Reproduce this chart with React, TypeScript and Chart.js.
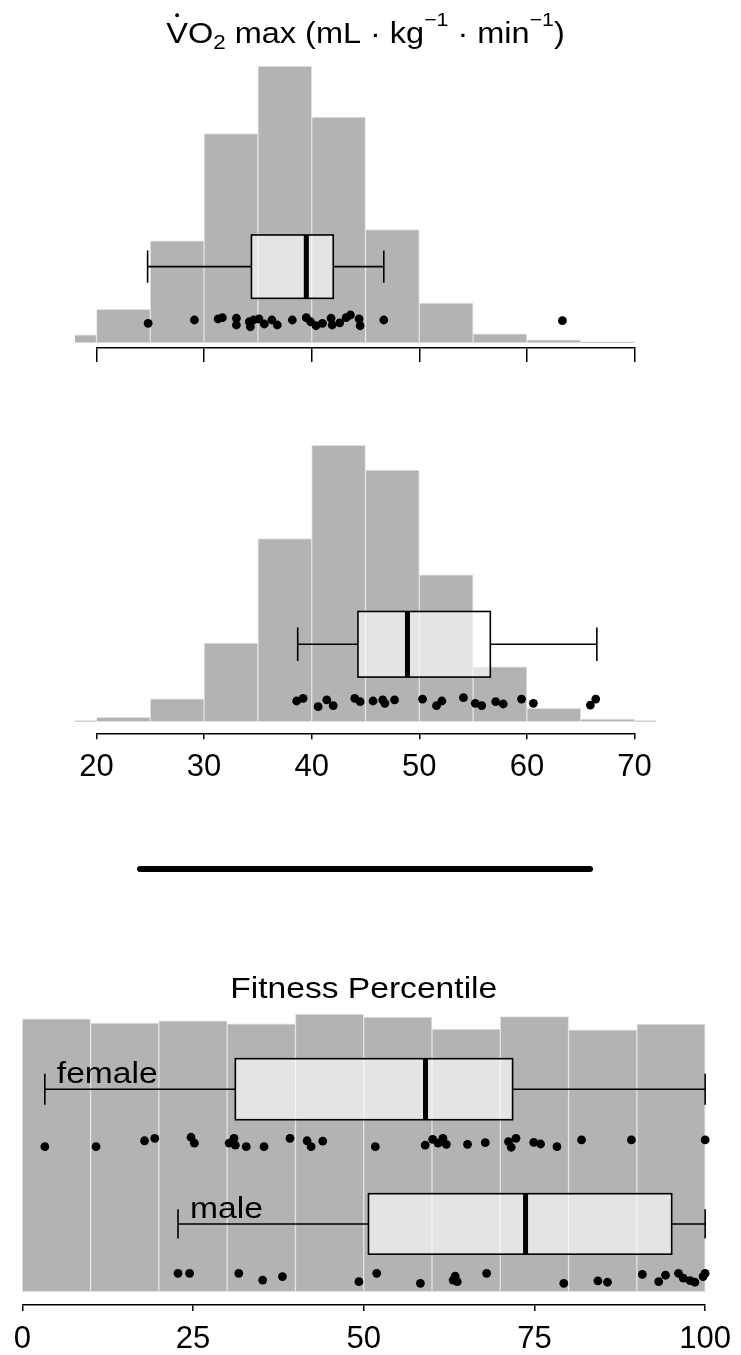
import React, { useEffect, useRef } from 'react';
import { Chart, registerables } from 'chart.js';

Chart.register(...registerables);

const W = 741;
const H = 1355;

// ---------------- DATA ----------------
// VO2 max histograms: percent of group in each 5-unit bin (bins start at these values)
const vo2BinStarts = [15, 20, 25, 30, 35, 40, 45, 50, 55, 60, 65, 70];
const vo2BinWidth = 5;
const femaleVO2Hist = [0.8, 3.3, 10.0, 20.5, 27.1, 22.1, 11.1, 3.9, 0.9, 0.3, 0.12];
const maleVO2Hist = [0.1, 0.43, 2.2, 7.6, 17.7, 26.7, 24.3, 14.2, 5.3, 1.3, 0.26, 0.1];
const vo2Ticks = [20, 30, 40, 50, 60, 70];

// Box plot stats: [lower whisker, Q1, median, Q3, upper whisker]
const femaleVO2Box = [24.75, 34.4, 39.5, 42.0, 46.7];
const maleVO2Box = [38.7, 44.3, 48.9, 56.6, 66.5];

// Individual observations and their vertical jitter (percent units)
const femaleVO2 = [24.8, 29.1, 31.3, 31.7, 33.0, 33.0, 34.2, 34.3, 34.6, 35.1, 35.6, 36.3, 36.8, 38.2, 39.5, 39.9, 40.4, 41.0, 41.8, 41.9, 42.6, 43.2, 43.6, 44.4, 44.5, 46.7, 63.3];
const femaleVO2Row = [1.93, 2.25, 2.35, 2.48, 2.42, 1.76, 2.08, 1.59, 2.25, 2.35, 1.86, 2.25, 1.76, 2.25, 2.48, 2.08, 1.69, 1.93, 2.42, 1.76, 1.96, 2.48, 2.74, 2.35, 1.69, 2.25, 2.18];
const maleVO2 = [38.6, 39.2, 40.6, 41.4, 42.0, 44.0, 44.5, 45.7, 46.6, 46.8, 47.7, 50.3, 51.6, 52.1, 54.1, 55.2, 55.8, 57.1, 57.8, 59.5, 60.6, 65.9, 66.4];
const maleVO2Row = [2.0, 2.26, 1.45, 2.1, 1.55, 2.26, 1.93, 2.0, 2.1, 1.78, 2.1, 2.19, 1.55, 2.0, 2.32, 1.78, 1.55, 1.93, 1.71, 2.19, 1.78, 1.61, 2.19];

// Fitness percentile histogram: percent in each 10-unit bin
const pctBinStarts = [0, 10, 20, 30, 40, 50, 60, 70, 80, 90];
const pctBinWidth = 10;
const pctHist = [10.11, 9.95, 10.03, 9.92, 10.28, 10.17, 9.73, 10.19, 9.70, 9.91];
const pctTicks = [0, 25, 50, 75, 100];

const femalePctBox = [3.3, 31.2, 59.05, 71.8, 100];
const malePctBox = [22.8, 50.7, 73.7, 95.1, 100];

const femalePct = [3.3, 10.8, 17.9, 19.4, 24.7, 25.2, 30.3, 31.0, 31.2, 32.8, 35.4, 39.2, 41.7, 42.3, 44.0, 51.7, 59.0, 60.1, 60.9, 61.6, 62.1, 65.2, 67.8, 71.2, 71.6, 72.3, 74.9, 75.9, 78.3, 81.9, 89.2, 100];
const femalePctRow = [5.37, 5.37, 5.59, 5.68, 5.72, 5.50, 5.50, 5.68, 5.43, 5.37, 5.37, 5.68, 5.59, 5.37, 5.58, 5.37, 5.43, 5.64, 5.50, 5.68, 5.46, 5.46, 5.52, 5.56, 5.35, 5.68, 5.53, 5.47, 5.37, 5.62, 5.62, 5.62];
const malePct = [22.8, 24.5, 31.7, 35.2, 38.1, 49.3, 51.9, 58.3, 63.1, 63.4, 63.7, 68.0, 79.3, 84.3, 85.7, 90.8, 93.2, 94.2, 96.1, 96.8, 97.8, 98.5, 99.7, 100];
const malePctRow = [0.68, 0.68, 0.68, 0.43, 0.56, 0.37, 0.68, 0.31, 0.43, 0.58, 0.37, 0.68, 0.31, 0.40, 0.35, 0.64, 0.37, 0.61, 0.68, 0.50, 0.41, 0.35, 0.56, 0.68];

// ---------------- DRAWING HELPERS ----------------
const FONT = "'Liberation Sans', Arial, Helvetica, sans-serif";
const STRETCH = 1.12;

type Part = { t: string; size: number; dy?: number };

function drawParts(ctx: CanvasRenderingContext2D, parts: Part[], x0: number, baseline: number, centered: boolean) {
  ctx.save();
  ctx.fillStyle = '#000';
  ctx.textBaseline = 'alphabetic';
  ctx.textAlign = 'left';
  const widths = parts.map((p) => {
    ctx.font = `${p.size}px ${FONT}`;
    return ctx.measureText(p.t).width * STRETCH;
  });
  const total = widths.reduce((a, b) => a + b, 0);
  let x = centered ? x0 - total / 2 : x0;
  const starts: number[] = [];
  parts.forEach((p, i) => {
    ctx.save();
    ctx.translate(x, baseline + (p.dy || 0));
    ctx.scale(STRETCH, 1);
    ctx.font = `${p.size}px ${FONT}`;
    ctx.fillText(p.t, 0, 0);
    ctx.restore();
    starts.push(x);
    x += widths[i];
  });
  ctx.restore();
  return { starts, widths };
}

type BoxSpec = { stats: number[]; y: number; half: number; cap: number; label?: string };

interface PanelSpec {
  binStarts: number[];
  binWidth: number;
  hist: number[];
  xMin: number;
  xMax: number;
  ticks: number[];
  xLeft: number;
  xRight: number;
  axisY: number;
  baseY: number;
  pxPerUnit: number;
  yMax: number;
  showLabels: boolean;
  tickLen: number;
  labelPad: number;
  boxes: BoxSpec[];
  dots: { x: number; y: number }[];
  title?: (ctx: CanvasRenderingContext2D, chart: any) => void;
}

function buildConfig(spec: PanelSpec): any {
  const yMin = -(spec.axisY - spec.baseY) / spec.pxPerUnit;
  const areaH = (spec.yMax - yMin) * spec.pxPerUnit;
  const scaleH = 50;
  const padTop = spec.axisY - areaH;
  const padBottom = H - spec.axisY - scaleH;

  const boxPlugin = {
    id: 'boxplots',
    afterDatasetDraw(chart: any, args: any) {
      if (args.index !== 0) return;
      const ctx: CanvasRenderingContext2D = chart.ctx;
      const xs = chart.scales.x;
      const ys = chart.scales.y;
      spec.boxes.forEach((b) => {
        const [lo, q1, med, q3, hi] = b.stats.map((v) => xs.getPixelForValue(v));
        const yc = ys.getPixelForValue(b.y);
        const yt = ys.getPixelForValue(b.y + b.half);
        const yb = ys.getPixelForValue(b.y - b.half);
        const ct = ys.getPixelForValue(b.y + b.cap);
        const cb = ys.getPixelForValue(b.y - b.cap);
        ctx.save();
        ctx.fillStyle = 'rgba(255,255,255,0.64)';
        ctx.fillRect(q1, yt, q3 - q1, yb - yt);
        ctx.strokeStyle = '#000';
        ctx.lineWidth = 1.6;
        ctx.strokeRect(q1, yt, q3 - q1, yb - yt);
        ctx.beginPath();
        ctx.moveTo(lo, yc);
        ctx.lineTo(q1, yc);
        ctx.moveTo(q3, yc);
        ctx.lineTo(hi, yc);
        ctx.moveTo(lo, ct);
        ctx.lineTo(lo, cb);
        ctx.moveTo(hi, ct);
        ctx.lineTo(hi, cb);
        ctx.stroke();
        ctx.lineWidth = 5;
        ctx.beginPath();
        ctx.moveTo(med, yt);
        ctx.lineTo(med, yb);
        ctx.stroke();
        ctx.restore();
        if (b.label) {
          drawParts(ctx, [{ t: b.label, size: 30 }], lo + 12, yc - 6, false);
        }
      });
    },
    afterDraw(chart: any) {
      if (spec.title) spec.title(chart.ctx, chart);
    },
  };

  return {
    type: 'scatter',
    data: {
      datasets: [
        {
          type: 'bar',
          data: spec.hist.map((h, i) => ({ x: spec.binStarts[i] + spec.binWidth / 2, y: h })),
          backgroundColor: '#b3b3b3',
          borderColor: '#e2e2e2',
          borderWidth: 1,
          borderSkipped: false,
          barPercentage: 1,
          categoryPercentage: 1,
          clip: { left: 21.5, right: 21.5, top: 0, bottom: 0 },
          order: 2,
        },
        {
          type: 'scatter',
          data: spec.dots,
          pointRadius: 4.4,
          pointHoverRadius: 4.4,
          backgroundColor: '#000',
          borderColor: '#000',
          borderWidth: 0,
          showLine: false,
          clip: false,
          order: 1,
        },
      ],
    },
    options: {
      responsive: false,
      animation: false,
      devicePixelRatio: 1,
      events: [],
      layout: {
        padding: { left: spec.xLeft, right: W - spec.xRight, top: padTop, bottom: padBottom },
      },
      plugins: { legend: { display: false }, tooltip: { enabled: false }, title: { display: false } },
      scales: {
        x: {
          type: 'linear',
          min: spec.xMin,
          max: spec.xMax,
          offset: false,
          afterBuildTicks: (s: any) => {
            s.ticks = spec.ticks.map((v) => ({ value: v }));
          },
          afterFit: (s: any) => {
            s.height = scaleH;
          },
          grid: {
            display: true,
            drawOnChartArea: false,
            drawTicks: true,
            tickLength: spec.tickLen,
            color: '#000',
            lineWidth: 1.5,
            offset: false,
          },
          border: { display: true, color: '#000', width: 1.5 },
          ticks: {
            display: spec.showLabels,
            padding: spec.labelPad,
            color: '#000',
            font: { family: FONT, size: 31 },
            maxRotation: 0,
            autoSkip: false,
          },
        },
        y: { type: 'linear', display: false, min: yMin, max: spec.yMax },
      },
    },
    plugins: [boxPlugin],
  };
}

const zip = (xs: number[], ys: number[]) => xs.map((x, i) => ({ x, y: ys[i] }));

const topSpec: PanelSpec = {
  binStarts: vo2BinStarts,
  binWidth: vo2BinWidth,
  hist: femaleVO2Hist,
  xMin: 20,
  xMax: 70,
  ticks: vo2Ticks,
  xLeft: 96.5,
  xRight: 634.5,
  axisY: 348,
  baseY: 343,
  pxPerUnit: 10.22,
  yMax: 29,
  showLabels: false,
  tickLen: 14,
  labelPad: 8,
  boxes: [{ stats: femaleVO2Box, y: 7.47, half: 3.1, cap: 1.57 }],
  dots: zip(femaleVO2, femaleVO2Row),
  title: (ctx, chart) => {
    const cx = (chart.chartArea.left + chart.chartArea.right) / 2;
    const base = 43;
    const F = 29;
    const r = drawParts(
      ctx,
      [
        { t: 'V', size: F },
        { t: 'O', size: F },
        { t: '2', size: 20, dy: 5.5 },
        { t: ' max (mL ', size: F },
        { t: '\u00B7', size: F },
        { t: ' kg', size: F },
        { t: '\u22121', size: 19, dy: -17.5 },
        { t: ' \u00B7 min', size: F },
        { t: '\u22121', size: 19, dy: -17.5 },
        { t: ')', size: F },
      ],
      cx,
      base,
      true
    );
    ctx.save();
    ctx.fillStyle = '#000';
    ctx.beginPath();
    ctx.arc(r.starts[0] + r.widths[0] / 2, base - F * 0.716 - 7, 1.9, 0, Math.PI * 2);
    ctx.fill();
    ctx.restore();
  },
};

const midSpec: PanelSpec = {
  binStarts: vo2BinStarts,
  binWidth: vo2BinWidth,
  hist: maleVO2Hist,
  xMin: 20,
  xMax: 70,
  ticks: vo2Ticks,
  xLeft: 96.5,
  xRight: 634.5,
  axisY: 733.3,
  baseY: 721.7,
  pxPerUnit: 10.35,
  yMax: 29,
  showLabels: true,
  tickLen: 6,
  labelPad: 10,
  boxes: [{ stats: maleVO2Box, y: 7.48, half: 3.17, cap: 1.61 }],
  dots: zip(maleVO2, maleVO2Row),
};

const botSpec: PanelSpec = {
  binStarts: pctBinStarts,
  binWidth: pctBinWidth,
  hist: pctHist,
  xMin: 0,
  xMax: 100,
  ticks: pctTicks,
  xLeft: 22.3,
  xRight: 711,
  axisY: 1305,
  baseY: 1291.7,
  pxPerUnit: 27.0,
  yMax: 10.7,
  showLabels: true,
  tickLen: 6,
  labelPad: 10,
  boxes: [
    { stats: femalePctBox, y: 7.5, half: 1.13, cap: 0.574, label: 'female' },
    { stats: malePctBox, y: 2.51, half: 1.12, cap: 0.54, label: 'male' },
  ],
  dots: [...zip(femalePct, femalePctRow), ...zip(malePct, malePctRow)],
  title: (ctx, chart) => {
    const cx = (chart.chartArea.left + chart.chartArea.right) / 2;
    drawParts(ctx, [{ t: 'Fitness Percentile', size: 30 }], cx, 998, true);
  },
};

function Panel({ spec }: { spec: PanelSpec }) {
  const ref = useRef<HTMLCanvasElement>(null);
  useEffect(() => {
    const chart = new Chart(ref.current as HTMLCanvasElement, buildConfig(spec));
    return () => chart.destroy();
  }, [spec]);
  return <canvas ref={ref} width={W} height={H} style={{ position: 'absolute', left: 0, top: 0 }} />;
}

export default function App() {
  return (
    <div style={{ position: 'absolute', left: 0, top: 0, width: W, height: H, background: '#fff', overflow: 'hidden' }}>
      <Panel spec={topSpec} />
      <Panel spec={midSpec} />
      <div
        style={{
          position: 'absolute',
          left: 137,
          top: 866,
          width: 456,
          height: 6,
          borderRadius: 3,
          background: '#000',
        }}
      />
      <Panel spec={botSpec} />
    </div>
  );
}
